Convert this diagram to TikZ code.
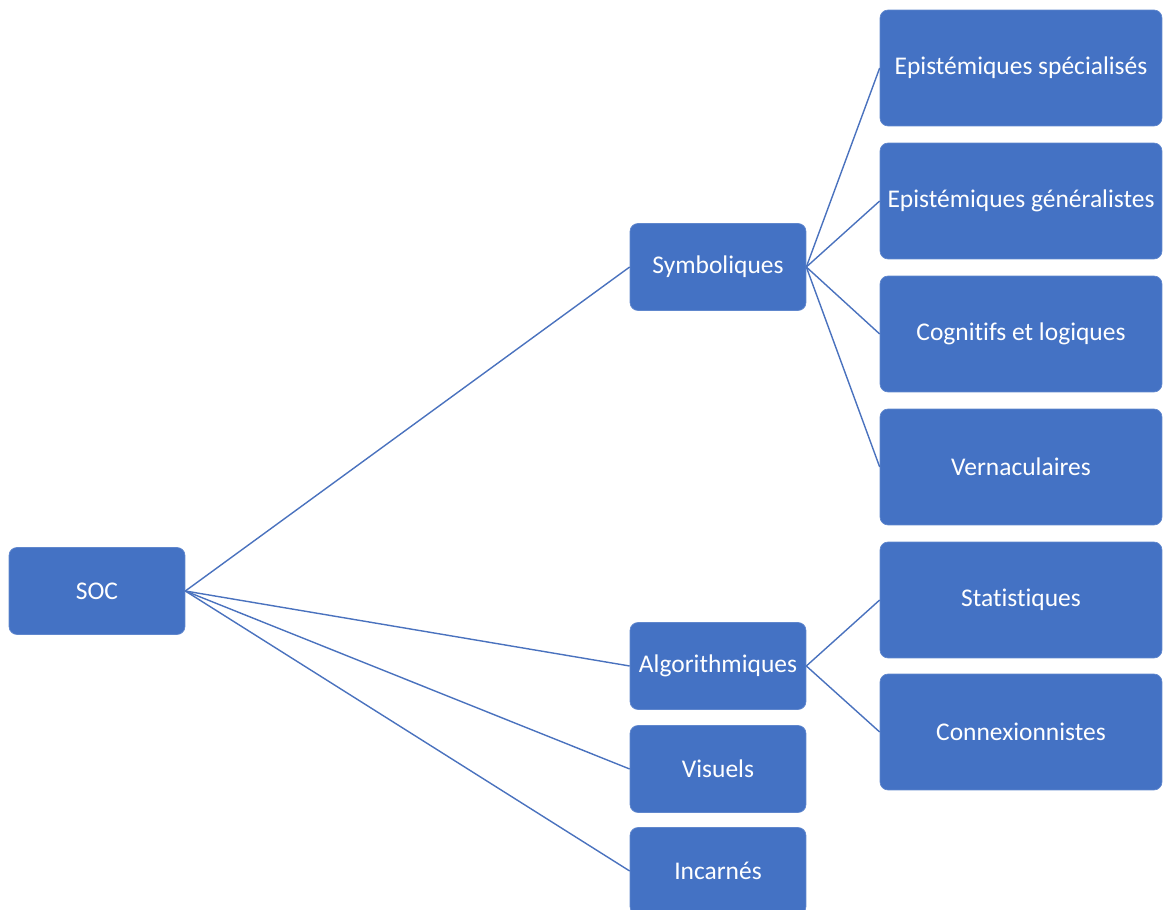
\documentclass[tikz,border=0pt]{standalone}
\usepackage{fontspec}
\setmainfont[Ligatures=NoCommon]{Carlito}
\usepackage{xcolor}
\definecolor{boxblue}{HTML}{4472C4}
\definecolor{lineblue}{HTML}{4A72BE}
\usepackage{tikz}
\usetikzlibrary{positioning}

\begin{document}
\begin{tikzpicture}[x=0.02cm, y=0.02cm,
    cat/.style={fill=boxblue, draw=boxblue!85!white, line width=0.4pt, rounded corners=0.16cm,
      text=white, font=\fontsize{14.5}{16}\selectfont, minimum width=3.52cm, minimum height=1.74cm, inner sep=0pt},
    sub/.style={cat, minimum width=5.64cm, minimum height=2.32cm},
    link/.style={lineblue, line width=0.8pt}]
  \useasboundingbox (0,0) rectangle (1171,910);
  \clip (0,0) rectangle (1171,910);

  % root
  \node[cat] (soc) at (97,319) {SOC};

  % first level
  \node[cat] (symb) at (718,643) {Symboliques};
  \node[cat] (algo) at (718,244) {Algorithmiques};
  \node[cat] (visu) at (718,141) {Visuels};
  \node[cat] (inca) at (718,39) {Incarnés};

  % second level, symbolic
  \node[sub] (epispe) at (1021,842) {Epistémiques spécialisés};
  \node[sub] (epigen) at (1021,709) {Epistémiques généralistes};
  \node[sub] (cogn) at (1021,576) {Cognitifs et logiques};
  \node[sub] (vern) at (1021,443) {Vernaculaires};

  % second level, algorithmic
  \node[sub] (stat) at (1021,310) {Statistiques};
  \node[sub] (conn) at (1021,178) {Connexionnistes};

  % links
  \foreach \c in {symb,algo,visu,inca}
    \draw[link] (soc.east) -- (\c.west);
  \foreach \c in {epispe,epigen,cogn,vern}
    \draw[link] (symb.east) -- (\c.west);
  \foreach \c in {stat,conn}
    \draw[link] (algo.east) -- (\c.west);
\end{tikzpicture}
\end{document}
